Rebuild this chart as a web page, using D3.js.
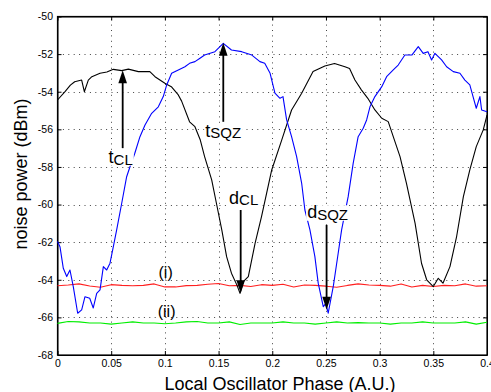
<!DOCTYPE html>
<html>
<head>
<meta charset="utf-8">
<script src="https://cdn.jsdelivr.net/npm/d3@7"></script>
<style>
  body { margin: 0; background: #fff; }
  svg { display: block; font-family: "Liberation Sans", Arial, Helvetica, sans-serif; }
</style>
</head>
<body>
<div id="chart"></div>
<script>
// coherent-light (black) trace
const clPhase = [0, 0.007, 0.012, 0.016, 0.0225, 0.025, 0.0287, 0.032, 0.0396, 0.046, 0.052, 0.0598, 0.066, 0.0753, 0.086, 0.0908,
  0.1, 0.106, 0.1125, 0.1156, 0.123, 0.128, 0.133, 0.137, 0.1436, 0.148, 0.153, 0.1575, 0.162, 0.167, 0.17, 0.173, 0.1777,
  0.184, 0.19, 0.1995, 0.2088, 0.218, 0.2274, 0.238, 0.249, 0.258, 0.2677, 0.272, 0.277, 0.283, 0.289, 0.2956, 0.302, 0.308,
  0.3127, 0.319, 0.325, 0.333, 0.339, 0.3438, 0.35, 0.3546, 0.359, 0.3655, 0.3717, 0.378, 0.384, 0.39, 0.3965, 0.4];
const clPower = [-54.44, -54.0, -53.65, -53.47, -53.38, -54.0, -53.38, -53.2, -53.02, -52.95, -52.81, -52.88, -52.8, -52.93, -52.93, -53.2,
  -53.55, -53.73, -54.17, -54.5, -55.6, -55.86, -56.57, -57.45, -58.69, -59.93, -61.35, -62.77, -63.65, -64.27, -64.72, -64.1, -63.83,
  -62.06, -60.64, -58.16, -56.57, -54.97, -54.08, -52.93, -52.63, -52.5, -52.67, -52.76, -53.38, -53.9, -54.35, -54.97, -55.41, -55.59,
  -56.39, -57.45, -58.87, -60.99, -63.12, -64.0, -64.36, -63.92, -64.18, -63.3, -61.7, -59.58, -58.16, -56.92, -56.03, -55.24];

// squeezed (blue) trace
const sqzPhase = [0, 0.0023, 0.0054, 0.0086, 0.0116, 0.0147, 0.0188, 0.0225, 0.0256, 0.03, 0.0333, 0.0365, 0.0396, 0.0427, 0.0458, 0.0489,
  0.052, 0.0551, 0.0598, 0.0644, 0.0675, 0.072, 0.0768, 0.0815, 0.0877, 0.0939, 0.0985, 0.1017, 0.1063, 0.1125, 0.1187, 0.123, 0.128,
  0.1327, 0.137, 0.1466, 0.1544, 0.162, 0.1715, 0.181, 0.1885, 0.193, 0.198, 0.2025, 0.2072, 0.21, 0.2134, 0.218, 0.2227, 0.2274,
  0.2304, 0.2351, 0.2397, 0.2428, 0.2475, 0.25, 0.2521, 0.257, 0.2614, 0.2646, 0.2707, 0.2754, 0.28, 0.2847, 0.2879, 0.291, 0.2956,
  0.302, 0.3065, 0.3127, 0.3173, 0.3235, 0.33, 0.336, 0.3406, 0.345, 0.3484, 0.3515, 0.3577, 0.3624, 0.3686, 0.3748, 0.3794, 0.384,
  0.387, 0.39, 0.3934, 0.395, 0.4];
const sqzPower = [-61.97, -62.24, -63.39, -63.83, -63.48, -64.36, -65.78, -65.6, -64.9, -64.98, -65.5, -64.72, -64.54, -63.3, -63.48, -63.12,
  -62.24, -61.35, -59.93, -58.52, -57.99, -57.27, -56.39, -55.77, -55.15, -54.8, -54.26, -53.64, -53.02, -52.84, -52.67, -52.49, -52.4,
  -52.22, -52.05, -51.87, -51.43, -51.78, -51.87, -52.05, -52.4, -52.49, -53.02, -54.08, -54.35, -54.26, -55.5, -56.39, -57.45, -58.87,
  -60.29, -61.35, -62.77, -64.18, -65.43, -65.25, -65.78, -64.3, -62.59, -61.35, -59.58, -57.8, -56.39, -55.94, -55.5, -54.8, -54.26,
  -53.73, -53.2, -52.84, -52.58, -52.05, -52.05, -51.6, -51.96, -51.87, -52.31, -51.96, -52.31, -52.67, -52.93, -53.02, -53.38, -53.64,
  -54.26, -54.88, -54.26, -54.97, -55.06];

// flat references: (i) shot noise, (ii) dark noise
const refPhase = d3.range(0, 0.4001, 0.01);
const shotPower = [-64.32, -64.28, -64.22, -64.33, -64.40, -64.26, -64.30, -64.32, -64.30, -64.22, -64.38, -64.38, -64.31, -64.30,
  -64.24, -64.20, -64.32, -64.30, -64.36, -64.26, -64.30, -64.24, -64.38, -64.28, -64.30, -64.34, -64.40, -64.30, -64.22, -64.28,
  -64.30, -64.34, -64.22, -64.38, -64.30, -64.36, -64.30, -64.32, -64.22, -64.34, -64.32];
const darkPower = [-66.32, -66.22, -66.24, -66.30, -66.30, -66.36, -66.30, -66.24, -66.30, -66.30, -66.34, -66.30, -66.24, -66.22,
  -66.30, -66.30, -66.24, -66.38, -66.30, -66.30, -66.30, -66.24, -66.30, -66.30, -66.36, -66.30, -66.24, -66.30, -66.28, -66.30,
  -66.30, -66.36, -66.30, -66.30, -66.24, -66.30, -66.30, -66.30, -66.24, -66.36, -66.26];

const xTicks = [0, 0.05, 0.1, 0.15, 0.2, 0.25, 0.3, 0.35, 0.4];
const xTickLabels = ["0", "0.05", "0.1", "0.15", "0.2", "0.25", "0.3", "0.35", "0.4"];
const yTicks = [-68, -66, -64, -62, -60, -58, -56, -54, -52, -50];
const yTickLabels = ["-68", "-66", "-64", "-62", "-60", "-58", "-56", "-54", "-52", "-50"];

// arrows: label, subscript, phase, tail, tip, label baseline (dBm)
const annoMain = ["t", "t", "d", "d"];
const annoSub = ["CL", "SQZ", "CL", "SQZ"];
const annoPhase = [0.0607, 0.1544, 0.1706, 0.2506];
const annoTail = [-57.0, -55.6, -60.29, -61.08];
const annoTip = [-52.86, -51.39, -64.72, -65.6];
const annoText = [-57.8, -56.39, -59.97, -60.73];
const annoShift = [-2, 0, 3, 1];

const width = 491, height = 392;
const margin = {top: 16.5, right: 4, bottom: 37, left: 57.5};

const svg = d3.select("#chart").append("svg")
  .attr("width", width)
  .attr("height", height);

const x = d3.scaleLinear().domain([0, 0.4]).range([margin.left, width - margin.right]);
const y = d3.scaleLinear().domain([-68, -50]).range([height - margin.bottom, margin.top]);

// dotted grid
const grid = svg.append("g")
  .attr("stroke", "#444")
  .attr("stroke-width", 1)
  .attr("stroke-dasharray", "1,4.4");
grid.selectAll(".gx")
  .data(xTicks.slice(1, -1))
  .join("line")
  .attr("x1", d => Math.round(x(d)) + 0.5).attr("x2", d => Math.round(x(d)) + 0.5)
  .attr("y1", y(-68)).attr("y2", y(-50));
grid.selectAll(".gy")
  .data(yTicks.slice(1, -1))
  .join("line")
  .attr("y1", d => Math.round(y(d)) + 0.5).attr("y2", d => Math.round(y(d)) + 0.5)
  .attr("x1", x(0)).attr("x2", x(0.4));

// axes with inward ticks
const fmtX = (d, i) => xTickLabels[i];
const fmtY = (d, i) => yTickLabels[i];
svg.append("g")
  .attr("transform", `translate(0,${y(-68)})`)
  .call(d3.axisBottom(x).tickValues(xTicks).tickFormat(fmtX).tickSizeInner(-4).tickSizeOuter(0).tickPadding(4.5));
svg.append("g")
  .attr("transform", `translate(0,${y(-50)})`)
  .call(d3.axisTop(x).tickValues(xTicks).tickFormat("").tickSizeInner(-4).tickSizeOuter(0));
svg.append("g")
  .attr("transform", `translate(${x(0)},0)`)
  .call(d3.axisLeft(y).tickValues(yTicks).tickFormat(fmtY).tickSizeInner(-4).tickSizeOuter(0).tickPadding(4.5));
svg.append("g")
  .attr("transform", `translate(${x(0.4)},0)`)
  .call(d3.axisRight(y).tickValues(yTicks).tickFormat("").tickSizeInner(-4).tickSizeOuter(0));

svg.selectAll(".tick text")
  .attr("font-size", 10.5)
  .attr("font-family", "Liberation Sans, Arial, sans-serif")
  .attr("fill", "#000");
svg.selectAll(".domain").attr("stroke", "#000");

svg.append("rect")
  .attr("x", x(0)).attr("y", y(-50))
  .attr("width", x(0.4) - x(0)).attr("height", y(-68) - y(-50))
  .attr("fill", "none").attr("stroke", "#000").attr("stroke-width", 1.2);

// traces
const line = d3.line().x(d => x(d[0])).y(d => y(d[1]));
const traces = [
  {phase: refPhase, power: darkPower, color: "#00ee00"},
  {phase: refPhase, power: shotPower, color: "#ff2020"},
  {phase: clPhase, power: clPower, color: "#000"},
  {phase: sqzPhase, power: sqzPower, color: "#0000ff"}
];
svg.append("g")
  .selectAll("path")
  .data(traces)
  .join("path")
  .attr("d", t => line(t.phase.map((p, i) => [p, t.power[i]])))
  .attr("fill", "none")
  .attr("stroke", t => t.color)
  .attr("stroke-width", 1.1)
  .attr("stroke-linejoin", "round");

// (i) and (ii)
svg.append("text").attr("x", x(0.1007)).attr("y", y(-63.9))
  .attr("text-anchor", "middle").attr("font-size", 16).text("(i)");
svg.append("text").attr("x", x(0.1016)).attr("y", y(-65.96))
  .attr("text-anchor", "middle").attr("font-size", 16).text("(ii)");

// arrows and labels
const anno = svg.append("g");
annoMain.forEach((m, i) => {
  const ax = x(annoPhase[i]);
  const tail = y(annoTail[i]), tip = y(annoTip[i]);
  const dir = tip < tail ? 1 : -1;
  const headLen = 13, headW = 4.3;
  anno.append("line")
    .attr("x1", ax).attr("x2", ax)
    .attr("y1", tail).attr("y2", tip + dir * headLen * 0.8)
    .attr("stroke", "#000").attr("stroke-width", 1.8);
  anno.append("path")
    .attr("d", `M${ax},${tip}L${ax - headW},${tip + dir * headLen}L${ax + headW},${tip + dir * headLen}Z`)
    .attr("fill", "#000");

  const bg = anno.append("rect").attr("fill", "#fff");
  const t = anno.append("text")
    .attr("x", ax + annoShift[i]).attr("y", y(annoText[i]))
    .attr("text-anchor", "middle")
    .attr("font-size", 18);
  t.append("tspan").text(m);
  t.append("tspan").attr("font-size", 15).attr("dy", 1.5).text(annoSub[i]);
  const bb = t.node().getBBox();
  bg.attr("x", bb.x - 1).attr("y", bb.y + 3)
    .attr("width", bb.width + 2).attr("height", bb.height - 5);
});

// axis titles
svg.append("text")
  .attr("x", 280).attr("y", 389.5)
  .attr("text-anchor", "middle").attr("font-size", 18)
  .text("Local Oscillator Phase (A.U.)");
svg.append("text")
  .attr("transform", "translate(27,174) rotate(-90)")
  .attr("text-anchor", "middle").attr("font-size", 18)
  .text("noise power (dBm)");
</script>
</body>
</html>
